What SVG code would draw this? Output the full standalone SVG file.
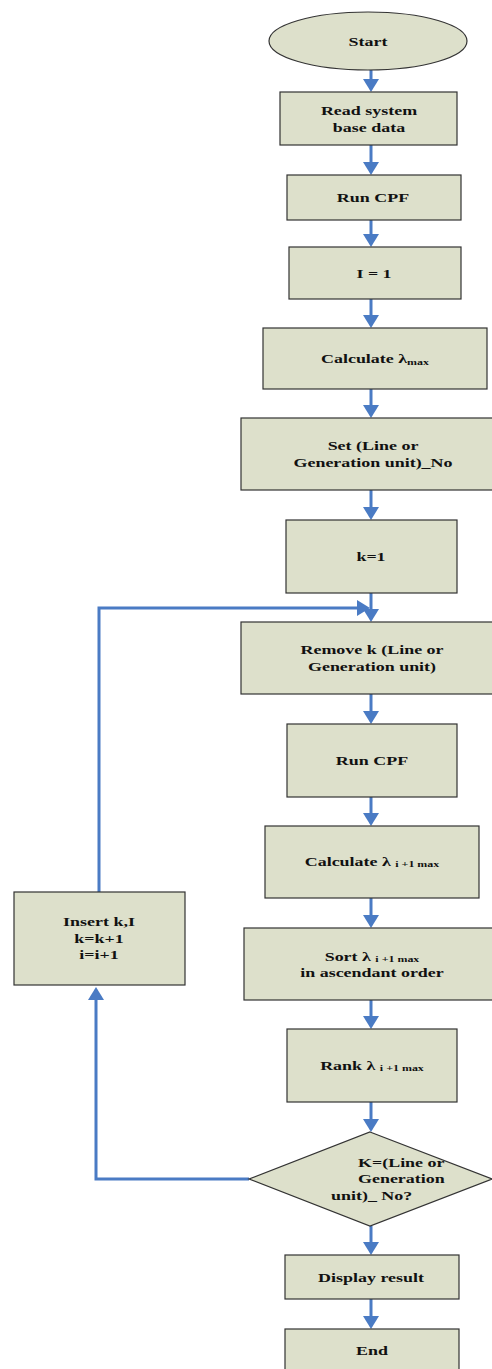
<svg xmlns="http://www.w3.org/2000/svg" width="492" height="1369" viewBox="0 0 492 1369">
<style>
.n{fill:#dde0cb;stroke:#333;stroke-width:1.2}
.t{font-family:"Liberation Serif","Times New Roman",serif;font-weight:bold;font-size:13.5px;fill:#111;text-anchor:middle}
.s{text-anchor:start}
.sub{font-size:9px}
.c{fill:none;stroke:#4a7bc4;stroke-width:3;marker-end:url(#ah)}
</style>
<defs>
<marker id="ah" markerUnits="userSpaceOnUse" viewBox="0 0 13 16" refX="10" refY="8" markerWidth="13" markerHeight="16" orient="auto">
<path d="M0,0 L13,8 L0,16 z" fill="#4a7bc4"/>
</marker>
</defs>
<rect width="492" height="1369" fill="#fff"/>

<g id="connectors">
<path class="c" d="M371,70 V89"/>
<path class="c" d="M371,145 V172"/>
<path class="c" d="M371,220 V244"/>
<path class="c" d="M371,299 V325"/>
<path class="c" d="M371,389 V415"/>
<path class="c" d="M371,490 V517"/>
<path class="c" d="M371,593 V619"/>
<path class="c" d="M371,694 V721"/>
<path class="c" d="M371,797 V823"/>
<path class="c" d="M371,898 V925"/>
<path class="c" d="M371,1000 V1026"/>
<path class="c" d="M371,1102 V1129"/>
<path class="c" d="M371,1226 V1252"/>
<path class="c" d="M371,1299 V1326"/>
<path class="c" d="M249,1179 H96 V990"/>
<path class="c" d="M99,892 V608 H367"/>
</g>

<g id="start">
<ellipse class="n" cx="368" cy="41" rx="99" ry="29"/>
<g transform="translate(368 0) scale(1.33 1)"><text class="t" x="0" y="46">Start</text></g>
</g>

<g id="read">
<rect class="n" x="280" y="92" width="177" height="53"/>
<g transform="translate(369 0) scale(1.33 1)"><text class="t" x="0" y="115">Read system</text><text class="t" x="0" y="132">base data</text></g>
</g>

<g id="runcpf1">
<rect class="n" x="287" y="175" width="174" height="45"/>
<g transform="translate(373 0) scale(1.33 1)"><text class="t" x="0" y="202">Run CPF</text></g>
</g>

<g id="i1">
<rect class="n" x="289" y="247" width="172" height="52"/>
<g transform="translate(374 0) scale(1.33 1)"><text class="t" x="0" y="278">I = 1</text></g>
</g>

<g id="calcmax">
<rect class="n" x="263" y="328" width="224" height="61"/>
<g transform="translate(375 0) scale(1.33 1)"><text class="t" x="0" y="363">Calculate λ<tspan class="sub" dy="2">max</tspan></text></g>
</g>

<g id="setno">
<rect class="n" x="241" y="418" width="256" height="72"/>
<g transform="translate(373 0) scale(1.33 1)"><text class="t" x="0" y="450">Set (Line or</text><text class="t" x="0" y="467">Generation unit)_No</text></g>
</g>

<g id="k1">
<rect class="n" x="286" y="520" width="171" height="73"/>
<g transform="translate(371 0) scale(1.33 1)"><text class="t" x="0" y="561">k=1</text></g>
</g>

<g id="remove">
<rect class="n" x="241" y="622" width="256" height="72"/>
<g transform="translate(372 0) scale(1.33 1)"><text class="t" x="0" y="654">Remove k (Line or</text><text class="t" x="0" y="671">Generation unit)</text></g>
</g>

<g id="runcpf2">
<rect class="n" x="287" y="724" width="170" height="73"/>
<g transform="translate(372 0) scale(1.33 1)"><text class="t" x="0" y="765">Run CPF</text></g>
</g>

<g id="calcnext">
<rect class="n" x="265" y="826" width="214" height="72"/>
<g transform="translate(372 0) scale(1.33 1)"><text class="t" x="0" y="866">Calculate λ <tspan class="sub" dy="1">i +1 max</tspan></text></g>
</g>

<g id="sort">
<rect class="n" x="244" y="928" width="253" height="72"/>
<g transform="translate(372 0) scale(1.33 1)"><text class="t" x="0" y="961">Sort λ <tspan class="sub" dy="1">i +1 max</tspan></text><text class="t" x="0" y="977">in ascendant order</text></g>
</g>

<g id="rank">
<rect class="n" x="287" y="1029" width="170" height="73"/>
<g transform="translate(372 0) scale(1.33 1)"><text class="t" x="0" y="1070">Rank λ <tspan class="sub" dy="1">i +1 max</tspan></text></g>
</g>

<g id="decision">
<path class="n" d="M370,1132 L492,1179 L370,1226 L249,1179 Z"/>
<g transform="translate(358 0) scale(1.33 1)"><text class="t s" x="0" y="1167">K=(Line or</text><text class="t s" x="0" y="1183">Generation</text></g>
<g transform="translate(331 0) scale(1.33 1)"><text class="t s" x="0" y="1200">unit)_ No?</text></g>
</g>

<g id="display">
<rect class="n" x="285" y="1255" width="174" height="44"/>
<g transform="translate(371 0) scale(1.33 1)"><text class="t" x="0" y="1282">Display result</text></g>
</g>

<g id="end">
<rect class="n" x="285" y="1329" width="174" height="45"/>
<g transform="translate(372 0) scale(1.33 1)"><text class="t" x="0" y="1355">End</text></g>
</g>

<g id="insert">
<rect class="n" x="14" y="892" width="171" height="93"/>
<g transform="translate(99 0) scale(1.33 1)"><text class="t" x="0" y="926">Insert k,I</text><text class="t" x="0" y="943">k=k+1</text><text class="t" x="0" y="959">i=i+1</text></g>
</g>
</svg>
